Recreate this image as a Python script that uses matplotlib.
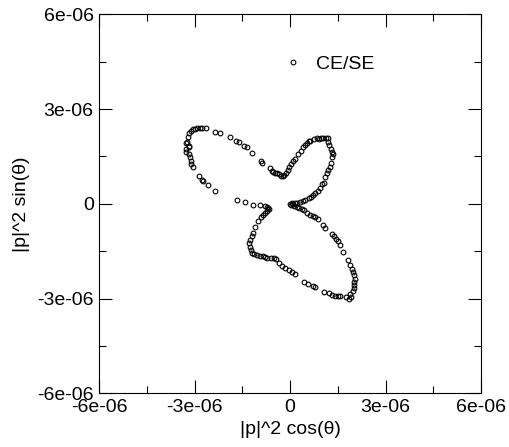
import numpy as np
import matplotlib
matplotlib.use('Agg')
import matplotlib.pyplot as plt
from matplotlib.ticker import MultipleLocator, FuncFormatter

# |p|^2 cos(theta), |p|^2 sin(theta) in units of 1e-6, ordered around the loop
x_vals = [
    -3.255, -3.224, -3.171, -3.129, -3.066, -2.993, -2.920, -2.836, -2.783, -2.647,
    -2.375, -2.197, -1.882, -1.694, -1.620, -1.442, -1.358, -1.191, -0.929, -0.887,
    -0.646, -0.583, -0.530, -0.478, -0.425, -0.363, -0.300, -0.237, -0.184,
    -0.132, -0.080, -0.027, 0.025, 0.078, 0.140, 0.256, 0.329, 0.413, 0.465,
    0.518, 0.581, 0.633, 0.748, 0.832, 0.905, 0.968, 1.042, 1.126, 1.178,
    1.199, 1.230, 1.283, 1.314, 1.335, 1.325, 1.283, 1.241, 1.199, 1.147,
    1.094, 1.063, 1.000, 0.937, 0.885, 0.790, 0.727, 0.665, 0.581, 0.476,
    0.392, 0.308, 0.224, 0.140, 0.057, -0.006, 0.014, 0.078,
    0.130, 0.203, 0.287, 0.361, 0.434, 0.518, 0.623, 0.707, 0.780, 0.885,
    1.042, 1.105, 1.304, 1.388, 1.440, 1.503, 1.566, 1.671, 1.828, 1.880,
    1.943, 1.985, 2.006, 2.027, 2.006, 2.017, 2.006, 1.985, 1.880, 1.901, 1.839,
    1.744, 1.566, 1.493, 1.409, 1.304, 1.220, 1.063, 0.780, 0.707, 0.570,
    0.434, 0.161, 0.057, -0.048, -0.153, -0.258, -0.363, -0.436, -0.499, -0.614,
    -0.719, -0.792, -0.866, -0.949, -1.054, -1.138, -1.211, -1.243, -1.274, -1.285,
    -1.253, -1.201, -1.159, -1.107, -1.002, -0.918, -0.845, -0.792, -0.740, -0.708,
    -0.677, -0.740, -0.792,
    -0.949, -1.159, -1.411, -1.673, -2.364, -2.574, -2.731, -2.783, -2.878, -3.066,
    -3.119, -3.108, -3.161, -3.192, -3.266, -3.287, -3.192, -3.171, -3.276,
]
y_vals = [
    1.968, 2.126, 2.252, 2.316, 2.368, 2.379, 2.390, 2.400, 2.411, 2.390,
    2.274, 2.242, 2.105, 1.989, 1.946, 1.841, 1.799, 1.619, 1.356, 1.303,
    1.124, 1.039, 0.997, 0.976, 0.965, 0.934, 0.891, 0.881, 0.902,
    0.986, 1.071, 1.176, 1.261, 1.345, 1.430, 1.567, 1.683, 1.809, 1.873,
    1.925, 1.978, 1.999, 2.041, 2.084, 2.063, 2.073, 2.084, 2.094, 2.084,
    1.968, 1.862, 1.735, 1.651, 1.567, 1.493, 1.282, 1.176, 1.071, 0.965,
    0.860, 0.670, 0.628, 0.512, 0.417, 0.332, 0.280, 0.227, 0.174, 0.132,
    0.100, 0.069, 0.037, 0.016, 0.016, -0.005, -0.026, -0.005,
    -0.058, -0.090, -0.121, -0.153, -0.195, -0.280, -0.353, -0.385, -0.427, -0.491,
    -0.670, -0.765, -0.955, -1.029, -1.124, -1.166, -1.303, -1.514, -1.778, -1.936,
    -2.073, -2.157, -2.263, -2.368, -2.474, -2.580, -2.664, -2.748, -2.843, -2.949, -3.001,
    -2.959, -2.928, -2.928, -2.917, -2.885, -2.833, -2.780, -2.643, -2.590, -2.537,
    -2.463, -2.221, -2.157, -2.094, -2.020, -1.957, -1.883, -1.757, -1.725, -1.714,
    -1.714, -1.683, -1.651, -1.641, -1.619, -1.598, -1.546, -1.461, -1.356, -1.250,
    -1.145, -1.018, -0.913, -0.744, -0.533, -0.427, -0.353, -0.301, -0.216, -0.142,
    -0.174, -0.090, -0.069,
    -0.037, -0.026, 0.058, 0.132, 0.406, 0.586, 0.712, 0.754, 0.891, 1.166,
    1.261, 1.356, 1.493, 1.577, 1.651, 1.725, 1.809, 1.841, 1.936,
]
scale = 1e-6

plt.rcParams['font.family'] = ['Liberation Sans', 'DejaVu Sans']
plt.rcParams['axes.unicode_minus'] = False

fig = plt.figure(figsize=(5.09, 4.47), dpi=100)
ax = fig.add_axes([0.195, 0.120, 0.750, 0.848])

ax.plot(np.array(x_vals) * scale, np.array(y_vals) * scale, 'o', linestyle='none',
        markersize=3.4, markerfacecolor='none', markeredgecolor='black',
        markeredgewidth=0.8, label='CE/SE')

ax.set_xlim(-6e-6, 6e-6)
ax.set_ylim(-6e-6, 6e-6)


def sci_label(v, pos):
    if abs(v) < 1e-12:
        return '0'
    return '%.0e' % v


for axis in (ax.xaxis, ax.yaxis):
    axis.set_major_locator(MultipleLocator(3e-6))
    axis.set_minor_locator(MultipleLocator(1.5e-6))
    axis.set_major_formatter(FuncFormatter(sci_label))

ax.tick_params(which='both', direction='in', top=True, right=True,
               labelsize=14, width=0.8)
ax.tick_params(which='major', length=9.5, pad=4)
ax.tick_params(which='minor', length=5)
for sp in ax.spines.values():
    sp.set_linewidth(0.8)

ax.set_xlabel('|p|^2 cos(θ)', fontsize=14, labelpad=4)
ax.set_ylabel('|p|^2 sin(θ)', fontsize=14, labelpad=5)

ax.legend(loc='center left', bbox_to_anchor=(0.483, 0.868), frameon=False,
          fontsize=14, handlelength=1.0, handletextpad=0.65, borderpad=0,
          borderaxespad=0, numpoints=1)

fig.savefig('out.png', dpi=100)
